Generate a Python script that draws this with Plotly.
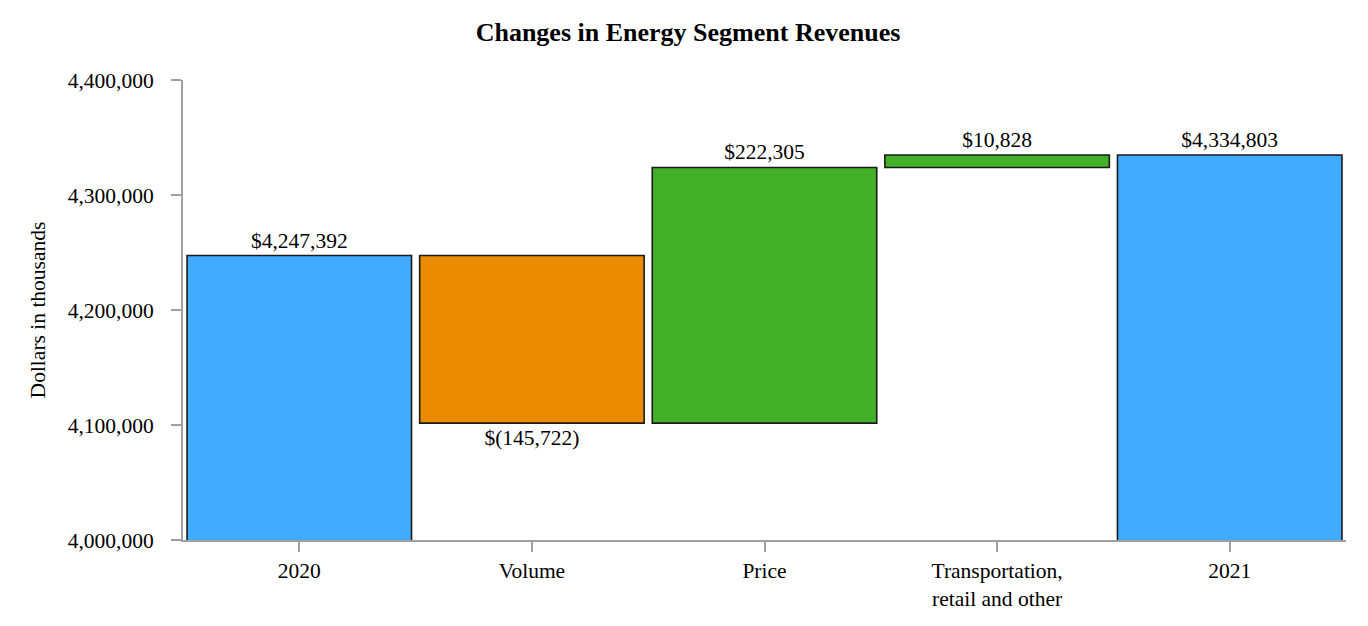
import plotly.graph_objects as go

categories = ["2020", "Volume", "Price", "Transportation,<br>retail and other", "2021"]
measures = ["absolute", "relative", "relative", "relative", "total"]
values = [4247392, -145722, 222305, 10828, 0]
labels = ["$4,247,392", "$(145,722)", "$222,305", "$10,828", "$4,334,803"]
y_ticks = [4000000, 4100000, 4200000, 4300000, 4400000]
y_tick_labels = ["4,000,000", "4,100,000", "4,200,000", "4,300,000", "4,400,000"]

FONT = "Liberation Serif, Times New Roman, serif"
FS = 21.5

fig = go.Figure(go.Waterfall(
    x=categories,
    measure=measures,
    y=values,
    text=labels,
    textposition="outside",
    textfont=dict(family=FONT, size=FS, color="black"),
    cliponaxis=False,
    connector=dict(visible=False),
    increasing=dict(marker=dict(color="#43B02A", line=dict(color="#1a1a1a", width=1.6))),
    decreasing=dict(marker=dict(color="#EB8C00", line=dict(color="#1a1a1a", width=1.6))),
    totals=dict(marker=dict(color="#40ABFF", line=dict(color="#1a1a1a", width=1.6))),
    hoverinfo="skip",
))

fig.update_layout(
    width=1360, height=618,
    margin=dict(l=175, r=22, t=72, b=86, autoexpand=False),
    paper_bgcolor="white", plot_bgcolor="white",
    font=dict(family=FONT, size=FS, color="black"),
    title=dict(text="<b>Changes in Energy Segment Revenues</b>", x=0.5, xanchor="center",
               xref="container",
               y=0.961, yanchor="middle", font=dict(family=FONT, size=26, color="black")),
    waterfallgap=0.035,
    showlegend=False,
)
fig.update_yaxes(
    range=[4000000, 4400000],
    tickvals=y_ticks, ticktext=y_tick_labels,
    showgrid=False, zeroline=False,
    showline=True, linecolor="#A0A0A0", linewidth=2,
    ticks="outside", ticklen=10, tickcolor="#A0A0A0", tickwidth=2,
    ticklabelstandoff=13,
    title=dict(text="Dollars in thousands", font=dict(family=FONT, size=FS), standoff=16),
    tickfont=dict(family=FONT, size=FS),
)
fig.update_xaxes(
    showgrid=False, zeroline=False,
    showline=True, linecolor="#A0A0A0", linewidth=2,
    ticks="outside", ticklen=10, tickcolor="#A0A0A0", tickwidth=2,
    tickfont=dict(family=FONT, size=FS),
)

fig.write_html("out.html")
